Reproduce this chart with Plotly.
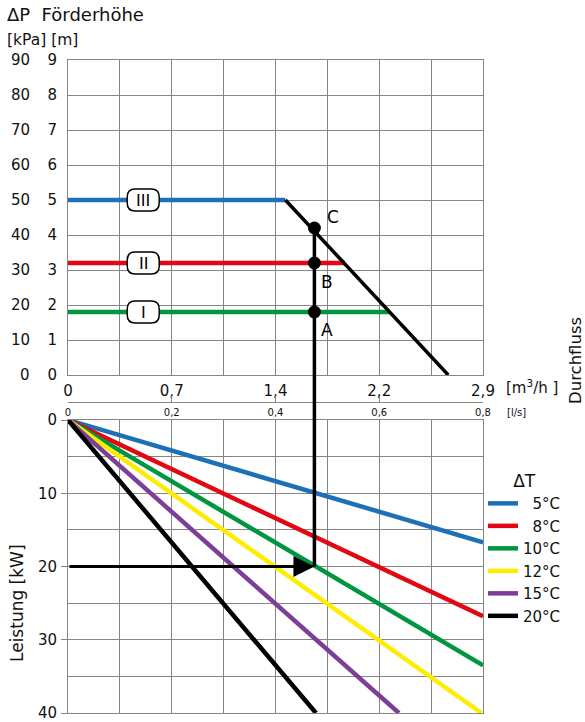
import plotly.graph_objects as go

W, H = 585, 722
FONT = "DejaVu Sans"
GRID = "#858585"

# ---------------- data ----------------
# upper chart: flow [l/s] vs pressure drop [kPa]
stage_names = ["I", "II", "III"]
stage_kpa = [18, 32, 50]
stage_end_flow = [0.621, 0.534, 0.419]
stage_colors = ["#009640", "#e30613", "#1d6fb8"]
stage_label_flow = 0.145

pump_flow = [0.419, 0.733]
pump_kpa = [50, 0]

op_flow = 0.475
op_names = ["A", "B", "C"]
op_kpa = [18, 32, 42]

# lower chart: flow [l/s] vs power [kW]
dt_names = ["5°C", "8°C", "10°C", "12°C", "15°C", "20°C"]
dt_end_flow = [0.80, 0.80, 0.80, 0.797, 0.638, 0.478]
dt_end_kw = [16.7, 26.8, 33.5, 40, 40, 40]
dt_colors = ["#1d6fb8", "#e30613", "#009640", "#ffed00", "#7b3f98", "#000000"]
op_kw = 20

# axis ticks
flow_ticks = [0, 0.2, 0.4, 0.6, 0.8]
m3h_labels = ["0", "0,7", "1,4", "2,2", "2,9"]
ls_labels = ["0", "0,2", "0,4", "0,6", "0,8"]
kpa_ticks = [0, 10, 20, 30, 40, 50, 60, 70, 80, 90]
m_labels = ["0", "1", "2", "3", "4", "5", "6", "7", "8", "9"]
kw_ticks = [0, 10, 20, 30, 40]
kw_labels = ["0", "10", "20", "30", "40"]


def px(p):
    return p / W


def py(p):
    return 1 - p / H


fig = go.Figure()

# upper: stage lines
for n, k, e, c in zip(stage_names, stage_kpa, stage_end_flow, stage_colors):
    fig.add_trace(go.Scatter(x=[0, e], y=[k, k], mode="lines", line=dict(color=c, width=4.5),
                             xaxis="x", yaxis="y", showlegend=False, hoverinfo="skip"))
# pump curve
fig.add_trace(go.Scatter(x=pump_flow, y=pump_kpa, mode="lines", line=dict(color="black", width=3.5),
                         xaxis="x", yaxis="y", showlegend=False, hoverinfo="skip"))
# vertical operating line (upper part)
fig.add_trace(go.Scatter(x=[op_flow, op_flow], y=[max(op_kpa), 0], mode="lines",
                         line=dict(color="black", width=3.5), xaxis="x", yaxis="y",
                         showlegend=False, hoverinfo="skip"))
fig.add_trace(go.Scatter(x=[op_flow] * 3, y=op_kpa, mode="markers",
                         marker=dict(color="black", size=13), xaxis="x", yaxis="y",
                         showlegend=False, hoverinfo="skip"))

# lower: dT lines
for n, e, k, c in zip(dt_names, dt_end_flow, dt_end_kw, dt_colors):
    nm = n if len(n) > 3 else "\u2007" + n
    fig.add_trace(go.Scatter(x=[0, e], y=[0, k], mode="lines", name=nm,
                             line=dict(color=c, width=4.5), xaxis="x2", yaxis="y2",
                             hoverinfo="skip"))
# vertical operating line (lower part)
fig.add_trace(go.Scatter(x=[op_flow, op_flow], y=[0, op_kw], mode="lines",
                         line=dict(color="black", width=3.5), xaxis="x2", yaxis="y2",
                         showlegend=False, hoverinfo="skip"))
# invisible trace for l/s axis
fig.add_trace(go.Scatter(x=[0, 0.8], y=[0, 0], mode="lines", opacity=0, xaxis="x3", yaxis="y2",
                         showlegend=False, hoverinfo="skip"))

XD = [px(68), px(483)]
UP = [py(375), py(60)]
LO = [py(713), py(420)]

axis_common = dict(showgrid=True, gridcolor=GRID, gridwidth=1, showline=True, linecolor=GRID,
                   linewidth=1, mirror=True, zeroline=False, automargin=False,
                   ticklabeloverflow="allow")

fig.update_layout(
    width=W, height=H, margin=dict(l=0, r=0, t=0, b=0, autoexpand=False),
    paper_bgcolor="white", plot_bgcolor="white",
    font=dict(family=FONT, color="#111111", size=15),
    xaxis=dict(domain=XD, anchor="y", range=[0, 0.8], tickmode="array",
               tickvals=flow_ticks, ticktext=m3h_labels, tickfont=dict(size=15), ticks="",
               ticklabelstandoff=2, minor=dict(dtick=0.1, showgrid=True, gridcolor=GRID),
               **axis_common),
    yaxis=dict(domain=UP, anchor="x", range=[0, 90], tickmode="array", tickvals=kpa_ticks,
               ticktext=m_labels, tickfont=dict(size=15), ticks="", ticklabelstandoff=7,
               **axis_common),
    xaxis2=dict(domain=XD, anchor="y2", range=[0, 0.8], dtick=0.1, showticklabels=False,
                ticks="", **axis_common),
    yaxis2=dict(domain=LO, anchor="x2", range=[40, 0], tickmode="array", tickvals=kw_ticks,
                ticktext=kw_labels, tickfont=dict(size=15), ticks="outside", ticklen=6,
                tickcolor=GRID, ticklabelstandoff=1,
                minor=dict(dtick=5, showgrid=True, gridcolor=GRID), **axis_common),
    xaxis3=dict(overlaying="x2", anchor="free", position=py(402), side="bottom", range=[0, 0.8],
                tickmode="array", tickvals=flow_ticks, ticktext=ls_labels, showgrid=False,
                showline=True, linecolor=GRID, linewidth=1, ticks="inside", ticklen=6,
                tickcolor=GRID, tickfont=dict(size=10), zeroline=False, ticklabelstandoff=1,
                automargin=False),
    legend=dict(x=px(483), y=py(465), xanchor="left", yanchor="top", bgcolor="rgba(0,0,0,0)",
                font=dict(size=15), itemwidth=30,
                title=dict(text="ΔT", side="top center", font=dict(size=17))),
    showlegend=True,
)

# connecting vertical segment between the two plots
fig.add_shape(type="line", xref="x", yref="paper", x0=op_flow, x1=op_flow, y0=LO[1], y1=UP[0],
              line=dict(color="black", width=3.5), layer="above")

# arrow
fig.add_annotation(x=op_flow, y=op_kw, xref="x2", yref="y2", ax=0, ay=op_kw, axref="x2",
                   ayref="y2", text="", showarrow=True, arrowhead=2, arrowsize=1.4,
                   arrowwidth=3, arrowcolor="black")

# stage labels (rounded boxes)
rr = ("M -8,-11 L 8,-11 Q 16,-11 16,-3 L 16,3 Q 16,11 8,11 L -8,11 Q -16,11 -16,3 "
      "L -16,-3 Q -16,-11 -8,-11 Z")
for n, k in zip(stage_names, stage_kpa):
    fig.add_shape(type="path", xref="x", yref="y", xsizemode="pixel", ysizemode="pixel",
                  xanchor=stage_label_flow, yanchor=k, path=rr, fillcolor="white",
                  line=dict(color="black", width=1.5), layer="above")
    fig.add_annotation(x=stage_label_flow, y=k, xref="x", yref="y", text=n, showarrow=False,
                       xanchor="center", yanchor="middle", font=dict(size=16, color="black"))

# operating point labels
shifts = [(13, -18), (13, -19), (19, 11)]
for n, k, (dx, dy) in zip(op_names, op_kpa, shifts):
    fig.add_annotation(x=op_flow, y=k, xref="x", yref="y", text=n, showarrow=False,
                       xanchor="center", yanchor="middle", xshift=dx, yshift=dy,
                       font=dict(size=17, color="black"))

# kPa column labels
for v in kpa_ticks:
    fig.add_annotation(x=px(32), y=v, xref="paper", yref="y", text=str(v), showarrow=False,
                       xanchor="right", yanchor="middle", font=dict(size=15))

# texts
def label(x, y, text, size, anchor="left", angle=0):
    fig.add_annotation(x=px(x), y=py(y), xref="paper", yref="paper", text=text,
                       showarrow=False, xanchor=anchor, yanchor="middle", textangle=angle,
                       font=dict(size=size))


label(5, 14, "ΔP  Förderhöhe", 18)
label(5, 40, "[kPa] [m]", 15.5)
label(504, 387, "[m<sup>3</sup>/h ]", 15)
label(505, 412, "[l/s]", 10)
label(575, 361, "Durchfluss", 16.5, anchor="center", angle=-90)
label(17, 603, "Leistung [kW]", 17, anchor="center", angle=-90)

fig.write_html("out.html", config={"displayModeBar": False},
               post_script="document.body.style.margin='0';"
                           "document.body.style.overflow='hidden';")
